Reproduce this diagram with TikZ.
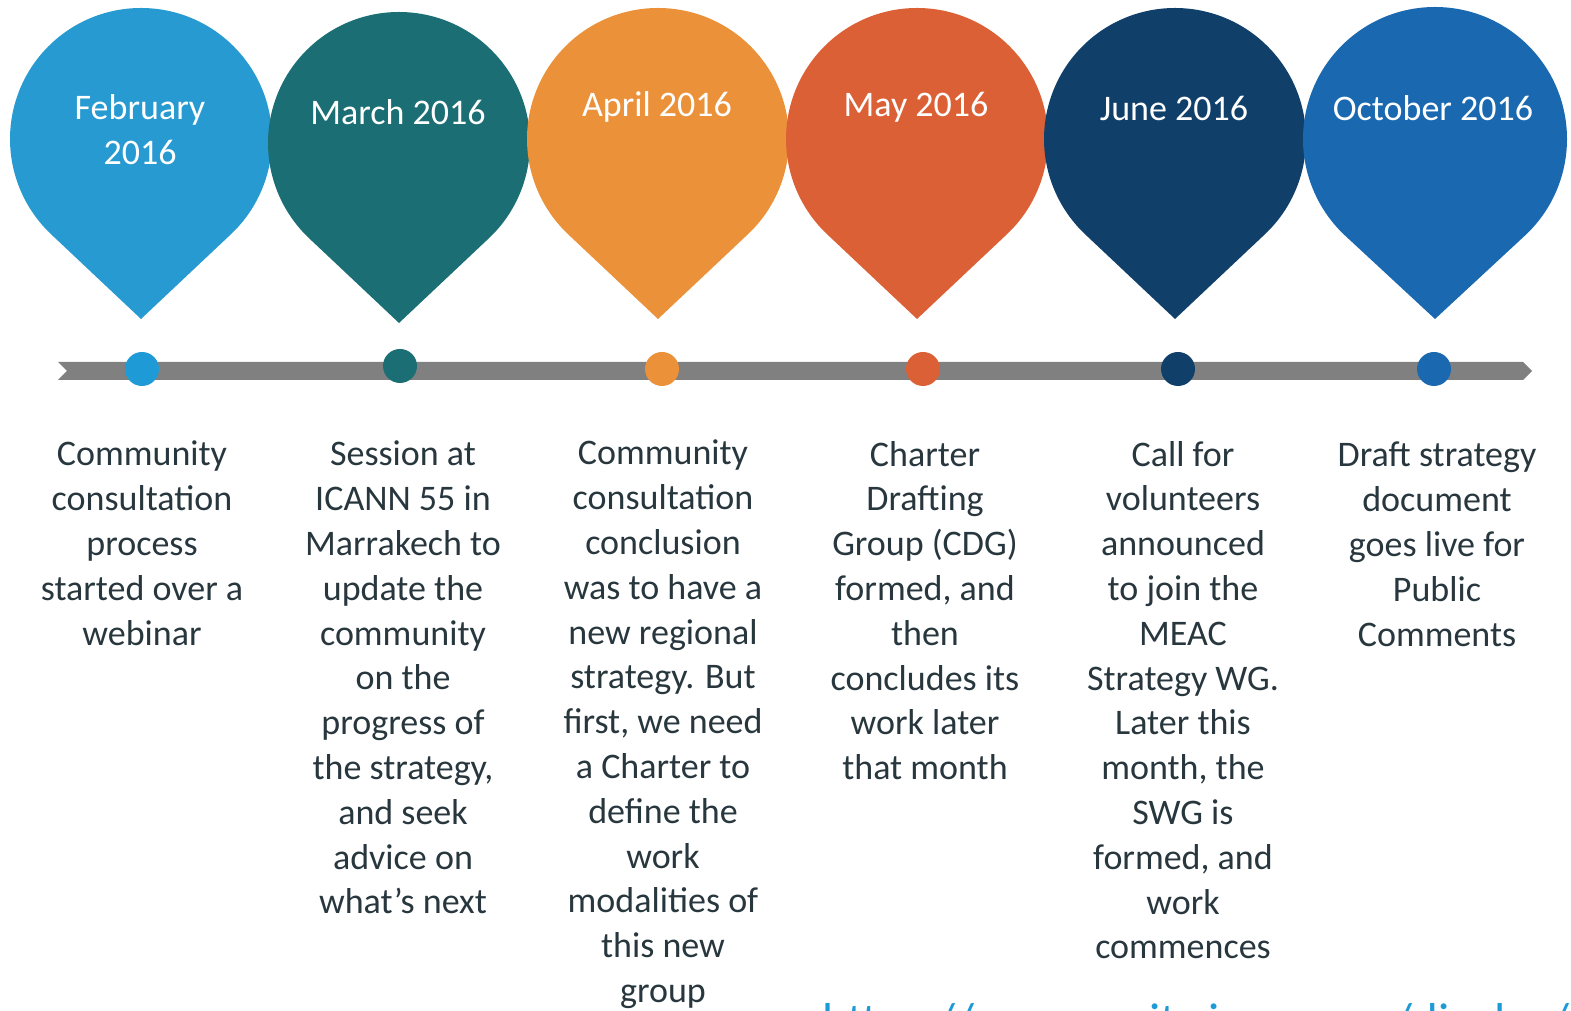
\documentclass[tikz,border=0pt]{standalone}
\usepackage{fontspec}
\setmainfont{Carlito}
\usepackage{tikz}
\usetikzlibrary{positioning}

\definecolor{febblue}{RGB}{39,154,209}
\definecolor{marteal}{RGB}{27,110,115}
\definecolor{aprorange}{RGB}{234,145,58}
\definecolor{mayred}{RGB}{220,96,53}
\definecolor{junnavy}{RGB}{16,64,106}
\definecolor{octblue}{RGB}{26,104,176}
\definecolor{febdot}{RGB}{30,154,214}
\definecolor{bargray}{RGB}{128,128,128}
\definecolor{txtgray}{RGB}{40,55,62}
\definecolor{linkblue}{RGB}{30,154,214}

\begin{document}
\begin{tikzpicture}[x=1pt,y=1pt]
	\tikzstyle{title} = [text=white, font=\fontsize{36}{45}\selectfont, align=center, inner sep=0pt]
	\tikzstyle{desc} = [text=txtgray, font=\fontsize{36}{44.8}\selectfont, align=center, anchor=north, inner sep=0pt]
	\tikzstyle{dot} = [circle, minimum size=34pt, inner sep=0pt]
	\useasboundingbox (0,0) rectangle (1571,1011);
	
	% pins
	\fill[febblue] (141,692) -- ([shift={(-46.7:131)}]141,872) arc[start angle=-46.7, end angle=226.7, radius=131] -- cycle;
	\fill[marteal] (399,688) -- ([shift={(-46.7:131)}]399,868) arc[start angle=-46.7, end angle=226.7, radius=131] -- cycle;
	\fill[aprorange] (658,692) -- ([shift={(-46.7:131)}]658,872) arc[start angle=-46.7, end angle=226.7, radius=131] -- cycle;
	\fill[mayred] (917,692) -- ([shift={(-46.7:131)}]917,872) arc[start angle=-46.7, end angle=226.7, radius=131] -- cycle;
	\fill[junnavy] (1175,692) -- ([shift={(-46.7:131)}]1175,872) arc[start angle=-46.7, end angle=226.7, radius=131] -- cycle;
	\fill[octblue] (1435,692) -- ([shift={(-46.7:132)}]1435,872) arc[start angle=-46.7, end angle=226.7, radius=132] -- cycle;
	
	\node [title] (tfeb) at (140,881) {February\\2016};
	\node [title] (tmar) at (398,899) {March 2016};
	\node [title] (tapr) at (657,904) {April 2016};
	\node [title] (tmay) at (916,904) {May 2016};
	\node [title] (tjun) at (1174,903) {June 2016};
	\node [title] (toct) at (1433,903) {October 2016};
	
	% timeline
	\fill[bargray] (58,649) -- (1523,649) -- (1532,640) -- (1523,631) -- (58,631) -- (67,640) -- cycle;
	
	\node [dot, fill=febdot] (dfeb) at (142,642) {};
	\node [dot, fill=marteal] (dmar) at (400,645) {};
	\node [dot, fill=aprorange] (dapr) at (662,642) {};
	\node [dot, fill=mayred] (dmay) at (923,642) {};
	\node [dot, fill=junnavy] (djun) at (1178,642) {};
	\node [dot, fill=octblue] (doct) at (1434,642) {};
	
	\node [desc] (feb) at (142,570) {Community\\consultation\\process\\started over a\\webinar};
	\node [desc] (mar) at (403,570) {Session at\\ICANN 55 in\\Marrakech to\\update the\\community\\on the\\progress of\\the strategy,\\and seek\\advice on\\what’s next};
	\node [desc] (apr) at (663,571) {Community\\consultation\\conclusion\\was to have a\\new regional\\strategy. But\\first, we need\\a Charter to\\define the\\work\\modalities of\\this new\\group};
	\node [desc] (may) at (925,570) {Charter\\Drafting\\Group (CDG)\\formed, and\\then\\concludes its\\work later\\that month};
	\node [desc] (jun) at (1183,570) {Call for\\volunteers\\announced\\to join the\\MEAC\\Strategy WG.\\Later this\\month, the\\SWG is\\formed, and\\work\\commences};
	\node [desc] (oct) at (1437,569) {Draft strategy\\document\\goes live for\\Public\\Comments};
	
	\node [anchor=base west, inner sep=0pt, text=linkblue, font=\fontsize{49}{58}\selectfont] (url) at (822,-27) {https://community.icann.org/display/MEAC};
\end{tikzpicture}
\end{document}
